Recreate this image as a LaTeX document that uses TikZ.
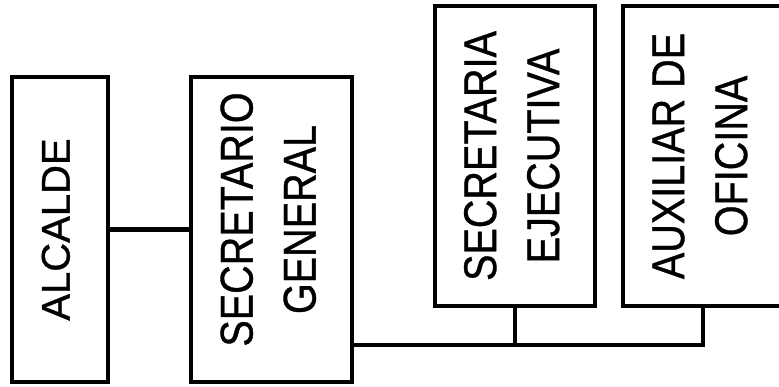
\documentclass[tikz,border=0pt]{standalone}
\usepackage{fontspec}
\setmainfont[FakeStretch=0.86, FakeBold=0.8]{Liberation Sans}
\newfontfamily\anchasans[FakeBold=0.8]{Liberation Sans}
\newcommand{\giro}[2][0pt]{\rotatebox{90}{\begin{tabular}{@{\hspace{#1}}c@{}}#2\end{tabular}}}
\begin{document}
\begin{tikzpicture}[x=1pt, y=1pt, line width=4.5pt,
    cargo/.style={draw, rectangle, inner sep=0pt, minimum width=#1,
        font=\fontsize{46}{63}\selectfont}]
        \useasboundingbox (0, 0) rectangle (779, 387);
        % cargos
        \node[cargo=96, minimum height=305, font=\anchasans\fontsize{40}{48}\selectfont] (alcalde) at (60, 157.5) {\giro{ALCALDE}};
        \node[cargo=161, minimum height=305] (secgen) at (271.5, 157.5) {\giro[20pt]{SECRETARIO\\GENERAL}};
        \node[cargo=160, minimum height=300] (secejec) at (515, 231) {\giro{SECRETARIA\\EJECUTIVA}};
        \node[cargo=160, minimum height=300] (auxiliar) at (703, 231) {\giro{AUXILIAR DE\\OFICINA}};
        % lineas
        \coordinate (bus) at (703, 42);
        \draw (alcalde) -- (secgen);
        \draw (secgen.east |- bus) -| (auxiliar);
        \draw (secejec) -- (secejec |- bus);
    \end{tikzpicture}
\end{document}
